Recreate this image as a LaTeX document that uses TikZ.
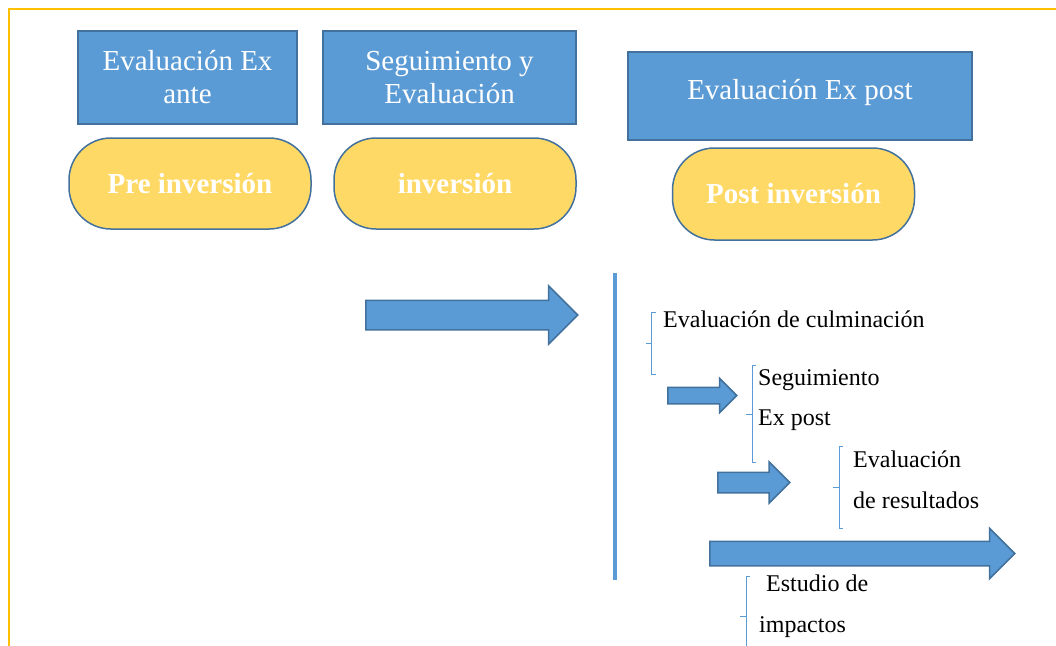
\documentclass[tikz,border=0pt]{standalone}
\usepackage{fontspec}
\setmainfont{Liberation Serif}
\usetikzlibrary{shapes.arrows}
\definecolor{boxblue}{HTML}{5B9BD5}
\definecolor{edgeblue}{HTML}{41719C}
\definecolor{phaseyellow}{HTML}{FFD966}
\definecolor{framegold}{HTML}{FFC000}
\begin{document}
\begin{tikzpicture}[x=1pt,y=-1pt,
  stage/.style={draw=edgeblue, line width=1.5pt, fill=boxblue, text=white, align=center, font=\fontsize{29}{33}\selectfont},
  phase/.style={draw=edgeblue, line width=1.5pt, fill=phaseyellow, text=white, rounded corners=42pt, minimum width=242pt, minimum height=91pt, font=\fontsize{29}{33}\selectfont\bfseries},
  flow/.style={single arrow, draw=edgeblue, line width=1.5pt, fill=boxblue, anchor=tail, inner xsep=0pt, text height=0pt, text depth=0pt, minimum width=0pt, single arrow head indent=0pt},
  brace/.style={draw=boxblue, line width=1pt},
  sub_text/.style={anchor=base west, inner sep=0pt, font=\fontsize{24}{28}\selectfont}
  ]
	\useasboundingbox (0,0) rectangle (1056,645);
	\draw[framegold, line width=2.5pt] (9,700) -- (9,9) -- (1100,9);

	\node[stage, minimum width=219pt, minimum height=93pt] (exante) at (187.5,77.5) {Evaluación Ex\\ante};
	\node[stage, minimum width=253pt, minimum height=93pt] (seguim) at (449.5,77.5) {Seguimiento y\\Evaluación};
	\node[stage, minimum width=344pt, minimum height=88pt, text depth=14pt] (expost) at (800,96) {Evaluación Ex post};

	\node[phase] (preinv) at (190,183.5) {Pre inversión};
	\node[phase] (inv) at (455,183.5) {inversión};
	\node[phase, minimum height=92pt] (postinv) at (793.5,194) {Post inversión};

	\node[flow, inner ysep=14pt, single arrow head extend=14.5pt, minimum height=212pt] (arrowA) at (365,315) {};
	\node[flow, inner ysep=7.5pt, single arrow head extend=9pt, minimum height=69pt] (arrowB) at (667,395.5) {};
	\node[flow, inner ysep=9.5pt, single arrow head extend=10.5pt, minimum height=72pt] (arrowC) at (717,482.5) {};
	\node[flow, inner ysep=11.5pt, single arrow head extend=13pt, minimum height=305pt] (arrowD) at (709,553.5) {};

	\draw[boxblue, line width=4pt] (615,273) -- (615,580);

	\node[sub_text] (culm) at (663,327) {Evaluación de culminación};
	\node[sub_text] (segA) at (758,385) {Seguimiento};
	\node[sub_text] (segB) at (758,425) {Ex post};
	\node[sub_text] (resA) at (853,467) {Evaluación};
	\node[sub_text] (resB) at (853,508) {de resultados};
	\node[sub_text] (impA) at (766,591) {Estudio de};
	\node[sub_text] (impB) at (759,632) {impactos};

	\draw[brace] (656,312) -- (651,312) -- (651,374) -- (656,374) (651,343) -- (646,343);
	\draw[brace] (756,365) -- (752,365) -- (752,462) -- (756,462) (752,414) -- (746,414);
	\draw[brace] (843,446) -- (839,446) -- (839,528) -- (843,528) (839,487) -- (833,487);
	\draw[brace] (750,576) -- (746,576) -- (746,660) (746,616) -- (740,616);
\end{tikzpicture}
\end{document}
